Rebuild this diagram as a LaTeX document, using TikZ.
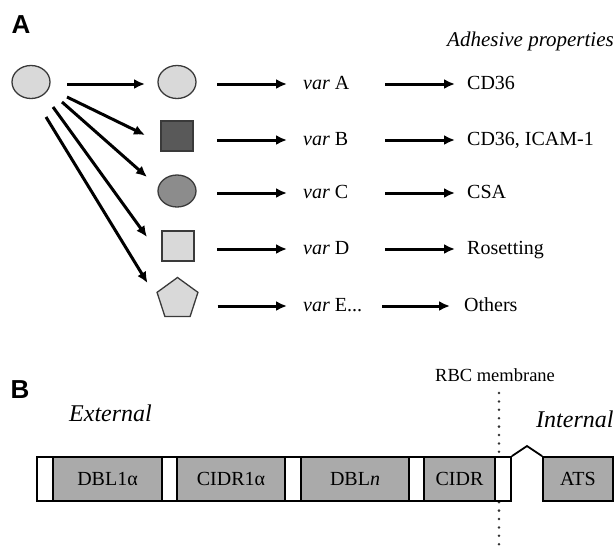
\documentclass[tikz,border=0pt]{standalone}
\usepackage{fontspec}
\setmainfont{Liberation Serif}
\newfontfamily\lsans{Liberation Sans}
\usetikzlibrary{shapes.geometric,arrows.meta}
\definecolor{lightg}{HTML}{D9D9D9}
\definecolor{darkg}{HTML}{595959}
\definecolor{midg}{HTML}{8C8C8C}
\definecolor{barg}{HTML}{AAAAAA}
\definecolor{edgeg}{HTML}{3A3A3A}
\tikzset{
  arr/.style={line width=3pt,-{Latex[length=11pt,width=10pt]}},
  shp/.style={draw=edgeg,line width=1.3pt,inner sep=0pt},
  ell/.style={shp,ellipse,minimum width=38pt,minimum height=33pt},
  sq/.style={shp,rectangle,minimum width=32pt,minimum height=30pt},
  txt/.style={inner sep=0pt,anchor=west,text height=14pt,text depth=3pt,font=\fontsize{20}{24}\selectfont},
  panel/.style={inner sep=0pt,font=\lsans\bfseries\fontsize{26}{30}\selectfont},
  seg/.style={draw=black,line width=1.8pt,rectangle,minimum height=44pt,inner sep=0pt,font=\fontsize{20}{24}\selectfont},
  gseg/.style={seg,fill=barg},
  wseg/.style={seg,fill=white},
  memb/.style={line width=2.8pt,line cap=round,dash pattern=on 0pt off 8.4pt,draw=black!80}
}
\begin{document}
\begin{tikzpicture}[x=1pt,y=-1pt]
\useasboundingbox (0,0) rectangle (616,547);
% Panel A
\node[panel] (la) at (21,25) {A};
\node[ell,fill=lightg] (src) at (31,82) {};
\node[ell,fill=lightg] (sa) at (177,82) {};
\node[sq,fill=darkg] (sb) at (177,136) {};
\node[ell,fill=midg,minimum height=32pt] (sc) at (177,191) {};
\node[sq,fill=lightg] (sd) at (178,246) {};
\node[shp,regular polygon,regular polygon sides=5,minimum size=43pt,fill=lightg] (se) at (177.5,299) {};

\draw[arr] ([shift={(36,2)}]src.center) -- ([shift={(-32,2)}]sa.center);
\draw[arr] ([shift={(36,15)}]src.center) -- ([shift={(-32,-1)}]sb.center);
\draw[arr] ([shift={(31,20)}]src.center) -- ([shift={(-30,-14)}]sc.center);
\draw[arr] ([shift={(22,25)}]src.center) -- ([shift={(-31,-9)}]sd.center);
\draw[arr] ([shift={(15,35)}]src.center) -- ([shift={(-30,-16)}]se.center);

\node[txt] (va) at (303,84) {\textit{var} A};
\node[txt] (vb) at (303,140) {\textit{var} B};
\node[txt] (vc) at (303,193) {\textit{var} C};
\node[txt] (vd) at (303,249) {\textit{var} D};
\node[txt] (ve) at (303,306) {\textit{var} E...};

\draw[arr,shorten <=40pt,shorten >=16pt] (va.west -| sa.center) -- (va.west);
\draw[arr,shorten <=40pt,shorten >=16pt] (vb.west -| sb.center) -- (vb.west);
\draw[arr,shorten <=40pt,shorten >=16pt] (vc.west -| sc.center) -- (vc.west);
\draw[arr,shorten <=39pt,shorten >=16pt] (vd.west -| sd.center) -- (vd.west);
\draw[arr,shorten <=40pt,shorten >=16pt] (ve.west -| se.center) -- (ve.west);

\node[txt,font=\itshape\fontsize{21}{24}\selectfont] (adh) at (447,41) {Adhesive properties};
\node[txt] (pa) at (467,84) {CD36};
\node[txt] (pb) at (467,140) {CD36, ICAM-1};
\node[txt] (pc) at (467,193) {CSA};
\node[txt] (pd) at (467,249) {Rosetting};
\node[txt] (pe) at (464,306) {Others};

\draw[arr,shorten <=82pt,shorten >=12pt] (va.west) -- (va.west -| pa.west);
\draw[arr,shorten <=82pt,shorten >=12pt] (vb.west) -- (vb.west -| pb.west);
\draw[arr,shorten <=82pt,shorten >=12pt] (vc.west) -- (vc.west -| pc.west);
\draw[arr,shorten <=82pt,shorten >=12pt] (vd.west) -- (vd.west -| pd.west);
\draw[arr,shorten <=79pt,shorten >=14pt] (ve.west) -- (ve.west -| pe.west);

% Panel B
\node[panel] (lb) at (20,390) {B};
\node[txt,font=\itshape\fontsize{24}{28}\selectfont] (ext) at (69,416) {External};
\node[txt,font=\itshape\fontsize{24}{28}\selectfont] (int) at (536,422) {Internal};
\node[txt,font=\fontsize{18.5}{22}\selectfont] (rbc) at (435,376) {RBC membrane};

\coordinate (mtop) at (499,393);
\coordinate (mbot) at (499,545);
\draw[memb] (mtop) -- (mbot);

\node[wseg,minimum width=16pt] (w1) at (45,479) {};
\node[gseg,minimum width=109pt] (dbl1) at (107.5,479) {DBL1α};
\node[wseg,minimum width=15pt] (w2) at (169.5,479) {};
\node[gseg,minimum width=108pt] (cidr1) at (231,479) {CIDR1α};
\node[wseg,minimum width=16pt] (w3) at (293,479) {};
\node[gseg,minimum width=108pt] (dbln) at (355,479) {DBL\textit{n}};
\node[wseg,minimum width=15pt] (w4) at (416.5,479) {};
\node[gseg,minimum width=71pt] (cidr) at (459.5,479) {CIDR};
\node[wseg,minimum width=16pt] (w5) at (503,479) {};
\node[gseg,minimum width=70pt] (ats) at (578,479) {ATS};
\coordinate (peak) at (527,446);
\draw[line width=1.8pt,line join=miter] (w5.north east) -- (peak) -- (ats.north west);
\end{tikzpicture}
\end{document}
